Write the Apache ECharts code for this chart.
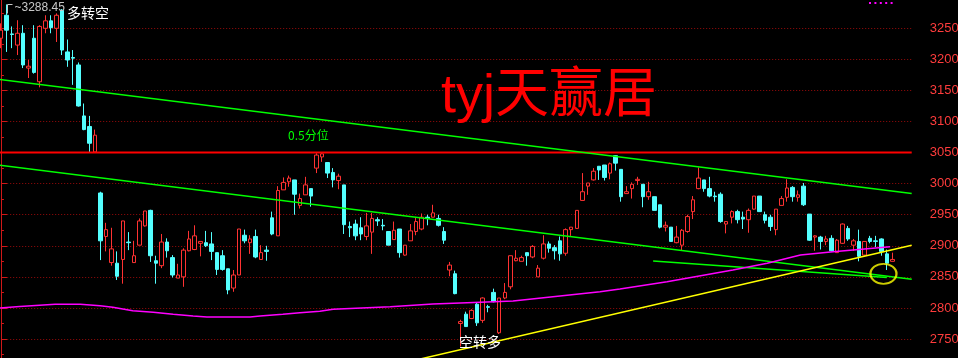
<!DOCTYPE html>
<html>
<head>
<meta charset="utf-8">
<script src="https://cdn.jsdelivr.net/npm/echarts@6/dist/echarts.min.js"></script>
<style>
html, body { margin: 0; padding: 0; background: #000; }
#chart { width: 958px; height: 358px; }
</style>
</head>
<body>
<div id="chart"></div>
<script>
// Daily candles: open / close / low / high
const opens = [
  3234, 3271, 3241, 3223, 3242, 3186, 3234, 3164, 3250, 3262,
  3250, 3279, 3212, 3203, 3191, 3109, 3092, 3051, 2985, 2915,
  2873, 2872, 2878, 2906, 2873, 2901, 2932, 2957, 2876, 2868,
  2906, 2881, 2848, 2850, 2892, 2894, 2904, 2905, 2903, 2889,
  2884, 2863, 2832, 2853, 2917, 2905, 2915, 2878, 2893, 2945,
  2916, 2990, 3003, 3006, 2965, 2982, 2992, 3025, 3043, 3034,
  3018, 3005, 2998, 2931, 2935, 2929, 2915, 2922, 2942, 2933,
  2923, 2910, 2927, 2885, 2908, 2923, 2927, 2946, 2946, 2944,
  2923, 2861, 2855, 2775, 2790, 2783, 2806, 2780, 2802, 2825,
  2760, 2816, 2834, 2876, 2875, 2889, 2882, 2850, 2880, 2903,
  2897, 2908, 2888, 2926, 2928, 2973, 2996, 3006, 3028, 3030,
  3017, 3045, 3023, 2984, 2992, 3005, 2999, 2979, 2979, 2966,
  2930, 2930, 2905, 2901, 2923, 2955, 2992, 3006, 2992, 2980,
  2983, 2935, 2946, 2955, 2946, 2942, 2959, 2980, 2950, 2946,
  2926, 2965, 2978, 2994, 2978, 2996, 2951, 2914, 2914, 2907,
  2912, 2889, 2904, 2928, 2901, 2907, 2885, 2912, 2908, 2911,
  2887, 2875
];
const closes = [
  3247, 3247, 3240, 3242, 3191, 3189, 3179, 3253, 3262, 3251,
  3271, 3215, 3199, 3202, 3125, 3087, 3065, 3078, 2908, 2926,
  2895, 2851, 2940, 2905, 2884, 2940, 2956, 2884, 2872, 2906,
  2892, 2853, 2853, 2893, 2911, 2916, 2907, 2900, 2891, 2862,
  2862, 2829, 2853, 2927, 2908, 2911, 2882, 2889, 2891, 2919,
  2989, 3002, 3009, 2983, 2976, 2998, 2980, 3046, 3048, 3017,
  3006, 3012, 2934, 2929, 2916, 2919, 2932, 2944, 2940, 2932,
  2901, 2925, 2889, 2901, 2924, 2939, 2946, 2944, 2953, 2933,
  2909, 2869, 2823, 2778, 2770, 2796, 2776, 2816, 2801, 2810,
  2816, 2825, 2884, 2880, 2881, 2884, 2899, 2864, 2903, 2896,
  2892, 2887, 2926, 2930, 2957, 2987, 3001, 3020, 3022, 3010,
  3032, 3033, 2979, 2987, 2999, 3007, 2979, 2987, 2957, 2930,
  2933, 2907, 2914, 2925, 2947, 2974, 3009, 2992, 2980, 2979,
  2939, 2939, 2955, 2942, 2943, 2957, 2980, 2955, 2941, 2931,
  2959, 2976, 2993, 2979, 2982, 2966, 2909, 2916, 2907, 2911,
  2892, 2909, 2935, 2911, 2908, 2883, 2907, 2907, 2907, 2891,
  2872, 2878
];
const lows = [
  3218, 3212, 3218, 3207, 3186, 3170, 3177, 3155, 3242, 3242,
  3228, 3207, 3188, 3159, 3124, 3086, 3051, 3051, 2877, 2891,
  2868, 2845, 2839, 2893, 2873, 2901, 2931, 2874, 2839, 2864,
  2881, 2849, 2848, 2834, 2891, 2893, 2883, 2898, 2877, 2853,
  2860, 2822, 2826, 2853, 2904, 2887, 2880, 2878, 2876, 2917,
  2916, 2990, 2995, 2950, 2960, 2982, 2963, 3017, 3035, 3009,
  2994, 2991, 2919, 2914, 2909, 2909, 2909, 2887, 2932, 2925,
  2901, 2910, 2881, 2884, 2908, 2917, 2925, 2933, 2946, 2931,
  2903, 2851, 2822, 2738, 2770, 2782, 2771, 2776, 2793, 2809,
  2758, 2814, 2830, 2875, 2875, 2868, 2880, 2850, 2878, 2889,
  2878, 2876, 2884, 2916, 2927, 2973, 2982, 3005, 3006, 3005,
  3007, 3021, 2971, 2984, 2976, 2998, 2962, 2974, 2957, 2928,
  2923, 2907, 2904, 2892, 2921, 2943, 2991, 2987, 2978, 2971,
  2937, 2920, 2936, 2936, 2927, 2921, 2958, 2955, 2936, 2924,
  2917, 2965, 2971, 2971, 2971, 2964, 2908, 2892, 2894, 2901,
  2891, 2889, 2903, 2908, 2892, 2875, 2884, 2904, 2898, 2884,
  2861, 2875
];
const highs = [
  3258, 3288.45, 3253, 3263, 3255, 3199, 3255, 3255, 3271, 3271,
  3274, 3281, 3232, 3215, 3195, 3129, 3109, 3087, 2987, 2937,
  2929, 2891, 2940, 2922, 2908, 2944, 2956, 2958, 2884, 2919,
  2912, 2885, 2871, 2896, 2924, 2933, 2907, 2924, 2922, 2889,
  2893, 2863, 2861, 2927, 2926, 2917, 2926, 2901, 2900, 2955,
  2996, 3010, 3013, 3006, 2984, 3011, 2992, 3049, 3049, 3034,
  3025, 3016, 2998, 2939, 2942, 2946, 2953, 2953, 2946, 2943,
  2923, 2939, 2927, 2901, 2935, 2946, 2952, 2950, 2966, 2950,
  2930, 2874, 2860, 2781, 2794, 2798, 2809, 2817, 2805, 2831,
  2816, 2840, 2884, 2893, 2884, 2889, 2901, 2869, 2917, 2907,
  2901, 2915, 2928, 2930, 2957, 3017, 3001, 3025, 3028, 3030,
  3034, 3046, 3023, 2996, 3002, 3011, 2999, 3003, 2979, 2966,
  2939, 2930, 2932, 2927, 2950, 2980, 3026, 3006, 3011, 2987,
  2986, 2939, 2957, 2958, 2955, 2960, 2980, 2980, 2955, 2950,
  2959, 2980, 3007, 2996, 2989, 3001, 2951, 2917, 2916, 2916,
  2917, 2911, 2936, 2932, 2911, 2926, 2907, 2916, 2916, 2912,
  2894, 2889
];

// Empty trading slots kept to the right of the last candle
const trailingSlots = 3;

// Price scale labels on the right
const priceTicks = [2750, 2800, 2850, 2900, 2950, 3000, 3050, 3100, 3150, 3200, 3250];

// Drawn lines, as [candle index, price] pairs
const halfLevel = 3050;
const upperChannel = [[-0.5, 3168], [164.5, 2984]];
const lowerChannel = [[-0.5, 3030], [164.5, 2846]];
const shortChannel = [[117.8, 2875.5], [160, 2849]];
const riseSupport = [[70, 2706], [164.5, 2901]];

// Long-period moving average, read point by point
const longMA = [
  [-0.5, 2799.5], [3.4, 2802.3], [9.8, 2805.9], [14.3, 2805.9], [17.9, 2803.6],
  [20.2, 2801], [23.8, 2795.6], [27.5, 2793], [31.1, 2789.8], [34.7, 2787],
  [37.2, 2785.4], [45, 2785.4], [46.8, 2787], [50.9, 2789.8], [54, 2792.4],
  [57.6, 2794.6], [60, 2797.8], [70.3, 2802], [78, 2806.4], [84.2, 2808.5],
  [92.5, 2811.2], [99.7, 2818.1], [108.2, 2826.2], [111.8, 2830.5], [120.3, 2842.3],
  [132.2, 2861.1], [138.4, 2871.8], [144.4, 2885.2], [150.3, 2890.5], [160.6, 2898.6]
];

// Circled spot on the latest candles
const circledSpot = [[159.4, 2855]];

const totalSlots = opens.length + trailingSlots;
const days = Array.from({ length: totalSlots }, (_, i) => String(i + 1));
const candles = opens.map((o, i) => [o, closes[i], lows[i], highs[i]]);

const RED = '#ff3232';
const CYAN = '#54ffff';

const chart = echarts.init(document.getElementById('chart'), null, { renderer: 'canvas' });

const trend = (data, color, width) => ({
  type: 'line', xAxisIndex: 1, yAxisIndex: 0, data,
  symbol: 'none', silent: true, z: 4, clip: true,
  lineStyle: { color, width }
});

chart.setOption({
  backgroundColor: '#000',
  animation: false,
  grid: {
    left: -1.8, right: 46.3, top: -2.77, bottom: -12.07,
    containLabel: false, outerBoundsMode: 'none'
  },
  xAxis: [
    { type: 'category', data: days, show: false, boundaryGap: true },
    { type: 'value', min: -0.5, max: totalSlots - 0.5, show: false }
  ],
  yAxis: {
    type: 'value', position: 'right', min: 2700, max: 3300, interval: 50,
    axisLine: { show: true, lineStyle: { color: '#d01818', width: 1 } },
    axisTick: { show: true, length: 6, lineStyle: { color: '#d01818' } },
    minorTick: { show: true, splitNumber: 2, length: 3, lineStyle: { color: '#d01818' } },
    axisLabel: {
      color: '#ff3c3c', fontSize: 13, fontFamily: 'Liberation Sans', margin: 18,
      formatter: v => priceTicks.includes(v) ? String(v) : ''
    },
    splitLine: { show: true, lineStyle: { color: '#9a0a0a', type: [1, 2], width: 1 } }
  },
  series: [
    {
      type: 'candlestick', xAxisIndex: 0, yAxisIndex: 0, data: candles,
      barWidth: 4, z: 2,
      itemStyle: {
        color: '#000', color0: CYAN,
        borderColor: RED, borderColor0: CYAN, borderColorDoji: RED, borderWidth: 1
      }
    },
    trend([[-0.5, halfLevel], [totalSlots - 0.5, halfLevel]], '#ff0000', 2),
    trend(upperChannel, '#00ff00', 1.5),
    trend(lowerChannel, '#00ff00', 1.5),
    trend(shortChannel, '#00ff00', 1.5),
    trend(longMA, '#ff00ff', 1.5),
    trend(riseSupport, '#ffff00', 1.5),
    {
      type: 'scatter', xAxisIndex: 1, yAxisIndex: 0, data: circledSpot, silent: true, z: 5,
      symbol: 'circle', symbolSize: [26, 20],
      itemStyle: { color: 'rgba(0,0,0,0)', borderColor: '#ffff00', borderWidth: 2 }
    }
  ]
});

// Pointer to the highest price in view
const topIdx = highs.indexOf(Math.max(...highs));
const topPt = chart.convertToPixel({ xAxisIndex: 0, yAxisIndex: 0 }, [topIdx, highs[topIdx]]);
const px = Math.round(topPt[0]) + 0.5;
const py = Math.round(topPt[1]) + 0.5;

const magentaDots = [0, 1, 2, 3, 4].map(k => ({
  type: 'rect', shape: { x: 869 + k * 5.4, y: 2, width: 2, height: 2 },
  style: { fill: '#ff00ff' }, silent: true
}));

chart.setOption({
  graphic: [
    {
      type: 'polyline', shape: { points: [[px, py + 9], [px, py], [px + 5, py]] },
      style: { stroke: '#c8c8c8', lineWidth: 1, fill: null }, silent: true, z: 10
    },
    {
      type: 'text', left: px + 7, top: py - 3, silent: true, z: 10,
      style: { text: '~' + highs[topIdx].toFixed(2), fill: '#c8c8c8', font: '12px "Liberation Sans"' }
    },
    {
      type: 'text', left: 67, top: 6, silent: true, z: 10,
      style: { text: '多转空', fill: '#ffffff', font: '14px "Noto Sans CJK SC"' }
    },
    {
      type: 'text', left: 288, top: 129, silent: true, z: 10,
      style: { text: '0.5分位', fill: '#00ff00', font: '12px "Noto Sans CJK SC"' }
    },
    {
      type: 'text', left: 459, top: 335, silent: true, z: 10,
      style: { text: '空转多', fill: '#ffffff', font: '14px "Noto Sans CJK SC"' }
    },
    {
      type: 'text', left: 441, top: 70, silent: true, z: 10,
      style: { text: 'tyj天赢居', fill: '#ff0000', font: '54px "Liberation Sans", "Noto Sans CJK SC"' }
    },
    ...magentaDots
  ]
});
</script>
</body>
</html>
